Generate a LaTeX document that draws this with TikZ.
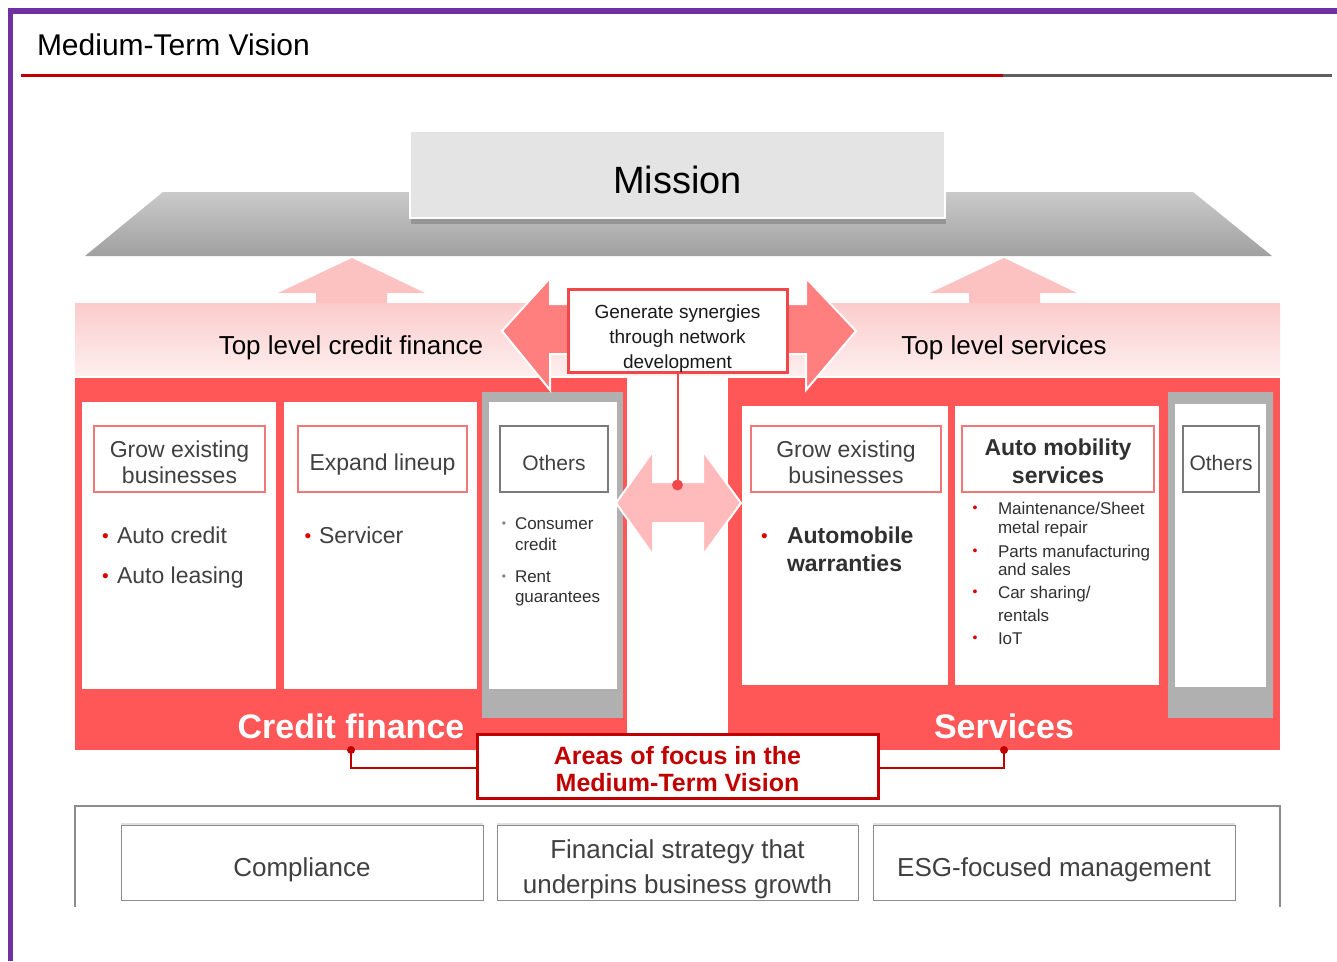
\documentclass[tikz,border=0pt]{standalone}
\usepackage{fontspec}
\setmainfont{Liberation Sans}
\usetikzlibrary{shadows}
\definecolor{purp}{HTML}{7030A0}
\definecolor{hdred}{HTML}{C00000}
\definecolor{hdgray}{HTML}{5F5F5F}
\definecolor{missfill}{HTML}{E4E4E4}
\definecolor{traptop}{HTML}{CACACA}
\definecolor{trapbot}{HTML}{A0A0A0}
\definecolor{uparrow}{HTML}{FCC2C2}
\definecolor{bandtop}{HTML}{FCCCCC}
\definecolor{bandbot}{HTML}{FEEEEE}
\definecolor{blockred}{HTML}{FF5757}
\definecolor{synarrow}{HTML}{FF7F7F}
\definecolor{lowarrow}{HTML}{FFBBBB}
\definecolor{panelgray}{HTML}{B0B0B0}
\definecolor{tboxpink}{HTML}{F07878}
\definecolor{tboxgray}{HTML}{7A7A7A}
\definecolor{txtgray}{HTML}{404040}
\definecolor{txtdark}{HTML}{303030}
\definecolor{synred}{HTML}{F04848}
\definecolor{focusred}{HTML}{C00000}
\definecolor{botgray}{HTML}{8C8C8C}
\begin{document}
\begin{tikzpicture}[x=1pt,y=-1pt,
  every node/.style={inner sep=0pt, outer sep=0pt},
  box/.style={anchor=north west},
  whitebox/.style={box, fill=white},
  tbox/.style={box, draw=tboxpink, line width=1.3, fill=white},
  gbox/.style={box, draw=tboxgray, line width=1.3, fill=white},
  lbl/.style={anchor=base},
  lblw/.style={anchor=base west},
  fA/.style={font=\fontsize{30}{36}\selectfont},
  fM/.style={font=\fontsize{38}{44}\selectfont},
  fT/.style={font=\fontsize{26}{30}\selectfont},
  fB/.style={font=\fontsize{23}{27}\selectfont, text=txtgray},
  fBb/.style={font=\fontsize{23}{27}\selectfont\bfseries, text=txtdark},
  fO/.style={font=\fontsize{21}{25}\selectfont, text=txtgray},
  fS/.style={font=\fontsize{17}{20}\selectfont, text=txtdark},
  fSyn/.style={font=\fontsize{19}{23}\selectfont, text=black!90},
  fBig/.style={font=\fontsize{34}{40}\selectfont\bfseries, text=white},
  fFoc/.style={font=\fontsize{25}{29}\selectfont\bfseries, text=focusred},
  rbul/.style={anchor=base, text=red!85!black, font=\fontsize{19}{23}\selectfont},
  rbuls/.style={anchor=base, text=red!85!black, font=\fontsize{14}{17}\selectfont},
  gbuls/.style={anchor=base, text=gray, font=\fontsize{12}{15}\selectfont},
  botbox/.style={box, draw=botgray, line width=1, fill=white,
     drop shadow={shadow xshift=0pt, shadow yshift=2pt, opacity=0.25}},
]
\useasboundingbox (0,0) rectangle (1337,961);
\fill[white] (0,0) rectangle (1337,961);

% frame
\fill[purp] (8,8) rectangle (1337,14);
\fill[purp] (8,8) rectangle (13,961);

% title
\node[fA, lblw] (title) at (37,55) {Medium-Term Vision};
\draw[hdred, line width=3] (21,75) -- (1003,75);
\draw[hdgray, line width=3] (1003,75) -- (1332,75);

% roof
\shade[top color=traptop, bottom color=trapbot] (163,192) -- (1193,192) -- (1272,256) -- (85,256) -- cycle;
\node[box, fill=missfill, draw=white, line width=1.5, minimum width=535, minimum height=87,
  drop shadow={shadow xshift=1pt, shadow yshift=-6pt, opacity=0.6}] (mission) at (410,131) {};
\node[fM, lbl] (missiontxt) at (677.5,193) {Mission};

% up arrows
\fill[uparrow] (352,258) -- (425,293) -- (387,293) -- (387,303) -- (316,303) -- (316,293) -- (278,293) -- cycle;
\fill[uparrow] (1004,258) -- (1077,293) -- (1040,293) -- (1040,303) -- (969,303) -- (969,293) -- (930,293) -- cycle;

% band
\shade[top color=bandtop, bottom color=bandbot] (75,303) rectangle (1280,375);
\node[fT, lbl] (tlcf) at (351,354) {Top level credit finance};
\node[fT, lbl] (tls) at (1004,354) {Top level services};

% red blocks
\node[box, fill=blockred, minimum width=552, minimum height=372] (cf) at (75,378) {};
\node[box, fill=blockred, minimum width=552, minimum height=372] (sv) at (728,378) {};

% left column boxes
\node[whitebox, minimum width=194, minimum height=287] (l1) at (82,402) {};
\node[whitebox, minimum width=193, minimum height=287] (l2) at (284,402) {};
\node[box, fill=panelgray, minimum width=141, minimum height=326] (l3p) at (482,392) {};
\node[whitebox, minimum width=128, minimum height=287] (l3) at (489,402) {};

% right column boxes
\node[whitebox, minimum width=206, minimum height=279] (r1) at (742,406) {};
\node[whitebox, minimum width=204, minimum height=279] (r2) at (955,406) {};
\node[box, fill=panelgray, minimum width=105, minimum height=326] (r3p) at (1168,392) {};
\node[whitebox, minimum width=91, minimum height=283] (r3) at (1175,404) {};

% title boxes
\node[tbox, minimum width=171, minimum height=66] (l1t) at (94,426) {};
\node[tbox, minimum width=169, minimum height=66] (l2t) at (298,426) {};
\node[gbox, minimum width=108, minimum height=66] (l3t) at (500,426) {};
\node[tbox, minimum width=190, minimum height=66] (r1t) at (751,426) {};
\node[tbox, minimum width=192, minimum height=66] (r2t) at (962,426) {};
\node[gbox, minimum width=76, minimum height=66] (r3t) at (1183,426) {};

\node[fB, lbl] (l1a) at (179.5,457) {Grow existing};
\node[fB, lbl] (l1b) at (179.5,483) {businesses};
\node[fB, lbl] (l2a) at (382.5,470) {Expand lineup};
\node[fO, lbl] (l3a) at (554,470) {Others};
\node[fB, lbl] (r1a) at (846,457) {Grow existing};
\node[fB, lbl] (r1b) at (846,483) {businesses};
\node[fBb, lbl] (r2a) at (1058,455) {Auto mobility};
\node[fBb, lbl] (r2b) at (1058,483) {services};
\node[fO, lbl] (r3a) at (1221,470) {Others};

% left lists
\node[rbul] (b1) at (105.5,542) {•};
\node[fB, lblw] (i1) at (117,543) {Auto credit};
\node[rbul] (b2) at (105.5,582) {•};
\node[fB, lblw] (i2) at (117,583) {Auto leasing};
\node[rbul] (b3) at (308,542) {•};
\node[fB, lblw] (i3) at (319,543) {Servicer};
\node[gbuls] (b4) at (504,527) {•};
\node[fS, lblw] (i4a) at (515,529) {Consumer};
\node[fS, lblw] (i4b) at (515,550) {credit};
\node[gbuls] (b5) at (504,580) {•};
\node[fS, lblw] (i5a) at (515,582) {Rent};
\node[fS, lblw] (i5b) at (515,602) {guarantees};

% right lists
\node[rbul] (b6) at (764.5,542) {•};
\node[fBb, lblw] (i6a) at (787,543) {Automobile};
\node[fBb, lblw] (i6b) at (787,571) {warranties};
\node[rbuls] (b7) at (975,512) {•};
\node[fS, lblw] (i7a) at (998,514) {Maintenance/Sheet};
\node[fS, lblw] (i7b) at (998,533) {metal repair};
\node[rbuls] (b8) at (975,555) {•};
\node[fS, lblw] (i8a) at (998,557) {Parts manufacturing};
\node[fS, lblw] (i8b) at (998,575) {and sales};
\node[rbuls] (b9) at (975,596) {•};
\node[fS, lblw] (i9a) at (998,598) {Car sharing/};
\node[fS, lblw] (i9b) at (998,621) {rentals};
\node[rbuls] (b10) at (975,642) {•};
\node[fS, lblw] (i10) at (998,644) {IoT};

% block titles
\node[fBig, lbl] (cftxt) at (351,738) {Credit finance};
\node[fBig, lbl] (svtxt) at (1004,738) {Services};

% synergy double arrow
\filldraw[fill=synarrow, draw=white, line width=2, line join=miter]
  (502,331) -- (550,278) -- (550,304) -- (806,304) -- (806,278) -- (856,331)
  -- (806,390) -- (806,354) -- (550,354) -- (550,390) -- cycle;
\node[box, fill=white, draw=synred, line width=3, minimum width=219, minimum height=83] (syn) at (568,289) {};
\node[fSyn, lbl] (syn1) at (677.5,318) {Generate synergies};
\node[fSyn, lbl] (syn2) at (677.5,343) {through network};
\node[fSyn, lbl] (syn3) at (677.5,368) {development};

% lower double arrow
\filldraw[fill=lowarrow, draw=white, line width=2, line join=miter]
  (616,503) -- (653,451) -- (653,482) -- (703,482) -- (703,451) -- (741,503)
  -- (703,555) -- (703,523) -- (653,523) -- (653,555) -- cycle;
\coordinate (syndot) at (677.5,485);
\draw[synred, line width=2] (syn.south) -- (syndot);
\fill[synred] (syndot) circle (5.5);

% focus box and connectors
\node[box, fill=white, draw=focusred, line width=3, minimum width=401, minimum height=64] (focus) at (477,734) {};
\node[fFoc, lbl] (foc1) at (677.5,764) {Areas of focus in the};
\node[fFoc, lbl] (foc2) at (677.5,791) {Medium-Term Vision};
\draw[focusred, line width=2] (cf.south) |- ([yshift=-2pt]focus.west);
\draw[focusred, line width=2] (sv.south) |- ([yshift=-2pt]focus.east);
\fill[focusred] (cf.south) circle (4);
\fill[focusred] (sv.south) circle (4);

% bottom foundation
\draw[botgray, line width=2] (75,907) -- (75,806) -- (1280,806) -- (1280,907);
\node[botbox, minimum width=362, minimum height=75] (comp) at (121,825) {};
\node[botbox, minimum width=361, minimum height=75] (fin) at (497,825) {};
\node[botbox, minimum width=362, minimum height=75] (esg) at (873,825) {};
\node[fT, lbl, text=txtgray] (comptxt) at (302,876) {Compliance};
\node[fT, lbl, text=txtgray] (fin1) at (677.5,858) {Financial strategy that};
\node[fT, lbl, text=txtgray] (fin2) at (677.5,893) {underpins business growth};
\node[fT, lbl, text=txtgray] (esgtxt) at (1054,876) {ESG-focused management};
\end{tikzpicture}
\end{document}
